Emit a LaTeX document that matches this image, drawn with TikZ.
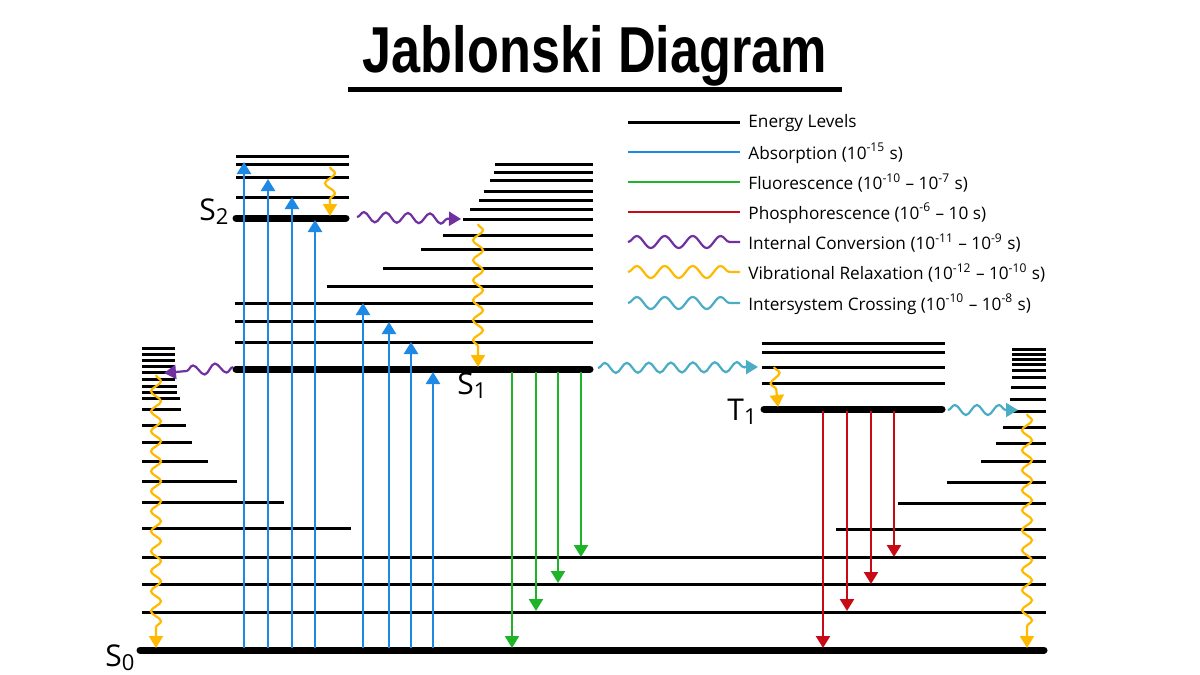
\documentclass[tikz,border=0pt]{standalone}
\usepackage{fontspec}
\setmainfont{Open Sans}
\newfontfamily\titlefont{Liberation Sans}
\usetikzlibrary{arrows.meta,decorations.pathmorphing}
\definecolor{absblue}{RGB}{30,136,229}
\definecolor{flgreen}{RGB}{30,180,40}
\definecolor{phred}{RGB}{200,10,20}
\definecolor{icpurple}{RGB}{112,48,160}
\definecolor{vryellow}{RGB}{255,185,0}
\definecolor{isccyan}{RGB}{75,172,198}
\tikzset{
  lvl/.style={line width=1.5pt},
  ground/.style={line width=3.5pt, line cap=round},
  tip/.style={-{Triangle[width=7pt,length=6pt]}},
  up/.style={tip, line width=1.2pt, absblue},
  wave/.style={tip, line width=1.1pt, decorate,
    decoration={snake, segment length=11pt, amplitude=2.5pt, post length=6pt}},
  vwave/.style={tip, line width=1.1pt, decorate,
    decoration={snake, segment length=10pt, amplitude=2.5pt, post length=6pt}},
  legwave/.style={line width=1.1pt, decorate, decoration={snake, segment length=14pt, amplitude=3pt}},
  lab/.style={font=\fontsize{15}{15}\selectfont, inner sep=0pt},
  leg/.style={font=\fontsize{8.6}{9}\selectfont, anchor=west, inner sep=0pt}
}
\newcommand{\state}[2]{#1\raisebox{-0.25ex}{\fontsize{11}{11}\selectfont #2}}
\begin{document}
\begin{tikzpicture}[x=0.5pt,y=-0.5pt]
\useasboundingbox (0,0) rectangle (1200,675);
% title
\node[font=\titlefont\bfseries\fontsize{29}{29}\selectfont, inner sep=0pt] (title) at (595,56)
  {\scalebox{0.9}[1.12]{Jablonski Diagram}};
\draw[line width=2.5pt] (348,89) -- (842,89);
% legend
\draw[lvl] (628,122) -- (740,122);
\draw[line width=1.1pt, absblue] (628,152) -- (740,152);
\draw[line width=1.1pt, flgreen] (628,182) -- (740,182);
\draw[line width=1.1pt, phred] (628,212) -- (740,212);
\draw[legwave, icpurple] (628,242) -- (740,242);
\draw[legwave, vryellow] (628,272) -- (740,272);
\draw[legwave, isccyan] (628,303) -- (740,303);
\node[leg] (l1) at (748,123) {Energy Levels};
\node[leg] (l2) at (748,153) {Absorption (10\textsuperscript{-15} s)};
\node[leg] (l3) at (748,183) {Fluorescence (10\textsuperscript{-10} -- 10\textsuperscript{-7} s)};
\node[leg] (l4) at (748,213) {Phosphorescence (10\textsuperscript{-6} -- 10 s)};
\node[leg] (l5) at (748,243) {Internal Conversion (10\textsuperscript{-11} -- 10\textsuperscript{-9} s)};
\node[leg] (l6) at (748,273) {Vibrational Relaxation (10\textsuperscript{-12} -- 10\textsuperscript{-10} s)};
\node[leg] (l7) at (748,304) {Intersystem Crossing (10\textsuperscript{-10} -- 10\textsuperscript{-8} s)};
% S0 ladder (left)
\foreach \y/\x in {348/175,354/175,360/175,366/175,372/175,379/175,386/177,392/177,398/180,409/181,425/186,442/192,461/208,481/237,502/284,528/351}
  \draw[lvl] (142,\y) -- (\x,\y);
\foreach \y in {557,584,612}
  \draw[lvl] (142,\y) -- (1046,\y);
% S0 ladder (right)
\foreach \y/\x in {349/1012,354/1012,359/1012,364/1012,370/1012,377/1012,387/1011,399/1010,411/1011,427/1003,443/996,461/981,482/947,503/898,529/836}
  \draw[lvl] (\x,\y) -- (1046,\y);
% S1 ladder
\foreach \y/\x in {164/495,172/494,180/490,191/484,200/479,209/470,219/463,235/443,249/421,268/383,286/327,303/235,321/235,342/235}
  \draw[lvl] (\x,\y) -- (593,\y);
% S2 ladder
\foreach \y in {156,164,177,197}
  \draw[lvl] (236,\y) -- (349,\y);
% T1 ladder
\foreach \y in {343,352,367,383}
  \draw[lvl] (762,\y) -- (945,\y);
% electronic states
\draw[ground] (140,650) -- (1044,650);
\draw[ground] (236,369) -- (590,369);
\draw[ground] (236,218) -- (346,218);
\draw[ground] (764,409) -- (942,409);
\node[lab] (S0) at (120,658) {\state{S}{0}};
\node[lab] (S1) at (472,386) {\state{S}{1}};
\node[lab] (S2) at (214,212) {\state{S}{2}};
\node[lab] (T1) at (742,412) {\state{T}{1}};
% absorption
\foreach \x/\y in {244/162,268/179,292/197,315/220,363/303,389/322,411/342,433/372}
  \draw[up] (\x,648) -- (\x,\y);
% fluorescence
\foreach \x/\y in {512/648,536/611,558/583,581/557}
  \draw[tip, line width=1.2pt, flgreen] (\x,372) -- (\x,\y);
% phosphorescence
\foreach \x/\y in {823/648,847/611,871/584,894/557}
  \draw[tip, line width=1.2pt, phred] (\x,411) -- (\x,\y);
% internal conversion
\draw[wave, icpurple] (357,217) -- (461,219);
\draw[wave, icpurple] (233,367) -- (164,373);
% vibrational relaxation
\draw[vwave, vryellow] (330,167) -- (330,216);
\draw[vwave, vryellow] (478,224) -- (478,367);
\draw[vwave, vryellow] (774,367) -- (778,407);
\draw[vwave, vryellow] (156,375) -- (156,648);
\draw[vwave, vryellow] (1027,414) -- (1027,648);
% intersystem crossing
\draw[wave, isccyan] (598,368) -- (758,367);
\draw[wave, isccyan] (948,410) -- (1018,410);
\end{tikzpicture}
\end{document}
